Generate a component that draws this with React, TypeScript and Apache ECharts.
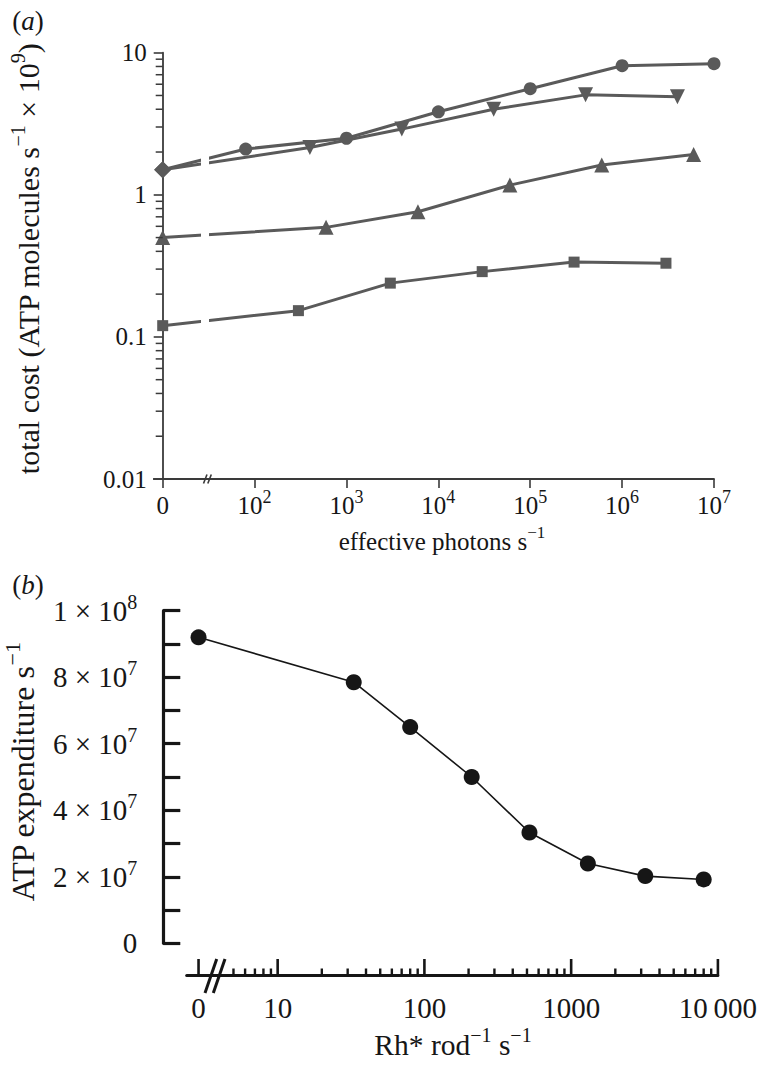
import React, { useEffect, useRef } from 'react';
import * as echarts from 'echarts';

const FONT = '"Liberation Serif", "DejaVu Serif", serif';

// ---------- Panel (a): total cost vs effective photons ----------
const circleX = [0, 80, 1e3, 1e4, 1e5, 1e6, 1e7];
const circleCost = [1.5, 2.1, 2.5, 3.84, 5.58, 8.1, 8.37];
const triDownX = [0, 400, 4e3, 4e4, 4e5, 4e6];
const triDownCost = [1.5, 2.15, 2.9, 4.0, 5.05, 4.9];
const triUpX = [0, 600, 6e3, 6e4, 6e5, 6e6];
const triUpCost = [0.5, 0.59, 0.76, 1.17, 1.62, 1.92];
const squareX = [0, 300, 3e3, 3e4, 3e5, 3e6];
const squareCost = [0.12, 0.153, 0.239, 0.288, 0.336, 0.33];
const aYMinorTicks = [
  0.02, 0.03, 0.04, 0.05, 0.06, 0.07, 0.08, 0.09,
  0.2, 0.3, 0.4, 0.5, 0.6, 0.7, 0.8, 0.9,
  2, 3, 4, 5, 6, 7, 8, 9,
];
const A_ZERO = 10; // where "0" sits on the broken log axis of panel (a)

// ---------- Panel (b): ATP expenditure vs Rh* rate ----------
const rhRate = [0, 33, 80, 210, 520, 1300, 3200, 8000];
const atpRate = [9.2e7, 7.85e7, 6.5e7, 5.0e7, 3.33e7, 2.4e7, 2.02e7, 1.92e7];
const bXMajorTicks = [0, 10, 100, 1000, 10000];
const bXTickLabels = ['0', '10', '100', '1000', '10\u2009000'];
const bXMinorTicks = [
  5, 6, 7, 8, 9,
  20, 30, 40, 50, 60, 70, 80, 90,
  200, 300, 400, 500, 600, 700, 800, 900,
  2000, 3000, 4000, 5000, 6000, 7000, 8000, 9000,
];
const B_ZERO = 2.89; // where "0" sits on the broken log axis of panel (b)

const GRAY = '#5a5a5a';
const AXIS_A = '#3a3a3a';
const INK = '#161616';

// layout
const GA = { left: 162.7, top: 52.7, right: 44, height: 426.3 };
const GB = { left: 186.7, top: 610.7, right: 40.1, height: 332.6 };
const B_X_OFFSET = 31.7;
const B_Y_OFFSET = 23.4;

const supRich = (size: number) => ({
  s: { fontSize: size, fontFamily: FONT, verticalAlign: 'top', lineHeight: size + 1, fill: INK, color: INK },
});

export default function App() {
  const ref = useRef<HTMLDivElement>(null);

  useEffect(() => {
    document.body.style.margin = '0';
    if (!ref.current) return;
    const chart = echarts.init(ref.current, undefined, { renderer: 'svg' });

    const pairs = (xs: number[], ys: number[], zero: number) =>
      xs.map((x, i) => [x === 0 ? zero : x, ys[i]]);

    const firstDiamond = (arr: number[][]) =>
      arr.map((v, i) => (i === 0 ? { value: v, symbol: 'diamond', symbolSize: 17 } : v));

    const lineA = (name: string, data: any[], symbol: string, size: number) => ({
      name,
      type: 'line',
      xAxisIndex: 0,
      yAxisIndex: 0,
      data,
      symbol,
      symbolSize: size,
      showSymbol: true,
      z: 3,
      lineStyle: { color: GRAY, width: 3 },
      itemStyle: { color: GRAY, borderWidth: 0 },
      silent: true,
    });

    const nameText = (x: number, y: number, text: string, size: number, rotate: boolean) => ({
      type: 'text',
      z: 60,
      x,
      y,
      rotation: rotate ? Math.PI / 2 : 0,
      style: {
        text,
        fontSize: size,
        fontFamily: FONT,
        fill: INK,
        lineHeight: Math.round(size * 1.35),
        align: 'center',
        verticalAlign: 'middle',
        rich: supRich(Math.round(size * 0.68)),
      },
    });

    chart.setOption({
      animation: false,
      backgroundColor: '#fff',
      grid: [
        { left: GA.left, top: GA.top, right: GA.right, height: GA.height },
        { left: GB.left, top: GB.top, right: GB.right, height: GB.height },
      ],
      xAxis: [
        {
          gridIndex: 0,
          type: 'log',
          logBase: 10,
          min: 10,
          max: 1e7,
          interval: 1,
          axisLine: { show: true, onZero: false, lineStyle: { color: AXIS_A, width: 1.8 } },
          axisTick: { show: true, length: 9, lineStyle: { color: AXIS_A, width: 1.6 } },
          splitLine: { show: false },
          minorTick: { show: false },
          axisLabel: {
            margin: 9,
            fontSize: 25,
            fontFamily: FONT,
            color: INK,
            lineHeight: 34,
            formatter: (v: number) => {
              const e = Math.round(Math.log10(v));
              return e === 1 ? '0' : `10{s|${e}}`;
            },
            rich: supRich(18),
          },
        },
        {
          gridIndex: 1,
          type: 'log',
          logBase: 10,
          min: 2.4,
          max: 10000,
          offset: B_X_OFFSET,
          axisLine: { show: true, onZero: false, lineStyle: { color: INK, width: 3 } },
          axisTick: { show: false },
          axisLabel: { show: false },
          splitLine: { show: false },
        },
      ],
      yAxis: [
        {
          gridIndex: 0,
          type: 'log',
          logBase: 10,
          min: 0.01,
          max: 10,
          interval: 1,
          axisLine: { show: true, onZero: false, lineStyle: { color: AXIS_A, width: 1.8 } },
          axisTick: { show: true, length: 9, lineStyle: { color: AXIS_A, width: 1.6 } },
          splitLine: { show: false },
          axisLabel: {
            margin: 16,
            fontSize: 25,
            fontFamily: FONT,
            color: INK,
            formatter: (v: number) =>
              v < 1 ? v.toFixed(Math.round(-Math.log10(v))) : String(Math.round(v)),
          },
        },
        {
          gridIndex: 1,
          type: 'value',
          min: 0,
          max: 1e8,
          interval: 1e7,
          offset: B_Y_OFFSET,
          axisLine: { show: true, onZero: false, lineStyle: { color: INK, width: 3.2 } },
          axisTick: { show: true, inside: true, length: 17, lineStyle: { color: INK, width: 3.2 } },
          splitLine: { show: false },
          axisLabel: {
            margin: 26,
            fontSize: 29,
            fontFamily: FONT,
            color: INK,
            lineHeight: 38,
            formatter: (v: number) => {
              if (v === 0) return '0';
              const n = Math.round(v / 1e7);
              if (n % 2 !== 0) return '';
              const e = Math.floor(Math.log10(v) + 1e-9);
              const m = Math.round(v / Math.pow(10, e));
              return `${m} \u00d7 10{s|${e}}`;
            },
            rich: supRich(20),
          },
        },
      ],
      series: [
        lineA('circles', firstDiamond(pairs(circleX, circleCost, A_ZERO)), 'circle', 13),
        lineA('triangles down', firstDiamond(pairs(triDownX, triDownCost, A_ZERO)), 'path://M0,0 L10,0 L5,9 Z', 15),
        lineA('triangles up', pairs(triUpX, triUpCost, A_ZERO), 'triangle', 15),
        lineA('squares', pairs(squareX, squareCost, A_ZERO), 'rect', 11),
        {
          name: 'a minor ticks',
          type: 'custom',
          xAxisIndex: 0,
          yAxisIndex: 0,
          silent: true,
          z: 4,
          data: aYMinorTicks.map((v) => [A_ZERO, v]),
          renderItem: (_p: any, api: any) => {
            const p = api.coord([api.value(0), api.value(1)]);
            return {
              type: 'line',
              shape: { x1: p[0] - 7, y1: p[1], x2: p[0], y2: p[1] },
              style: { stroke: AXIS_A, lineWidth: 1.5 },
            };
          },
        },
        {
          name: 'ATP expenditure',
          type: 'line',
          xAxisIndex: 1,
          yAxisIndex: 1,
          data: pairs(rhRate, atpRate, B_ZERO),
          symbol: 'circle',
          symbolSize: 16,
          z: 3,
          lineStyle: { color: INK, width: 1.6 },
          itemStyle: { color: INK },
          silent: true,
        },
        {
          name: 'b major ticks',
          type: 'custom',
          xAxisIndex: 1,
          yAxisIndex: 1,
          silent: true,
          z: 4,
          data: bXMajorTicks.map((v, i) => [v === 0 ? B_ZERO : v, 0, i]),
          renderItem: (params: any, api: any) => {
            const p = api.coord([api.value(0), 0]);
            const y = p[1] + B_X_OFFSET;
            return {
              type: 'group',
              children: [
                {
                  type: 'line',
                  shape: { x1: p[0], y1: y, x2: p[0], y2: y - 16 },
                  style: { stroke: INK, lineWidth: 2.6 },
                },
                {
                  type: 'text',
                  x: p[0],
                  y: y + 33,
                  style: {
                    text: bXTickLabels[params.dataIndex],
                    fontSize: 29,
                    fontFamily: FONT,
                    fill: INK,
                    align: 'center',
                    verticalAlign: 'middle',
                  },
                },
              ],
            };
          },
        },
        {
          name: 'b minor ticks',
          type: 'custom',
          xAxisIndex: 1,
          yAxisIndex: 1,
          silent: true,
          z: 4,
          data: bXMinorTicks.map((v) => [v, 0]),
          renderItem: (_p: any, api: any) => {
            const p = api.coord([api.value(0), 0]);
            const y = p[1] + B_X_OFFSET;
            return {
              type: 'line',
              shape: { x1: p[0], y1: y, x2: p[0], y2: y - 6.5 },
              style: { stroke: INK, lineWidth: 2.4 },
            };
          },
        },
      ],
      graphic: [
        // gap in the lines of panel (a) at the axis break
        { type: 'rect', z: 50, shape: { x: 201, y: 58, width: 8, height: 412 }, style: { fill: '#fff' } },
        // x-axis of (a) extends slightly left of the y-axis
        { type: 'line', z: 50, shape: { x1: 153, y1: 479, x2: 163, y2: 479 }, style: { stroke: AXIS_A, lineWidth: 1.8 } },
        // break marks (a)
        { type: 'line', z: 51, shape: { x1: 203.5, y1: 483.5, x2: 207, y2: 474.5 }, style: { stroke: AXIS_A, lineWidth: 1.6 } },
        { type: 'line', z: 51, shape: { x1: 207.8, y1: 483.5, x2: 211.3, y2: 474.5 }, style: { stroke: AXIS_A, lineWidth: 1.6 } },
        // break marks (b)
        { type: 'line', z: 51, shape: { x1: 205, y1: 993, x2: 216.7, y2: 959 }, style: { stroke: INK, lineWidth: 3 } },
        { type: 'line', z: 51, shape: { x1: 213.3, y1: 993, x2: 225, y2: 959 }, style: { stroke: INK, lineWidth: 3 } },
        // panel labels
        {
          type: 'text', z: 60, x: 28, y: 21,
          style: {
            text: '({i|a})', fontSize: 27, fontFamily: FONT, fill: INK, align: 'center', verticalAlign: 'middle',
            rich: { i: { fontSize: 27, fontFamily: FONT, fontStyle: 'italic', fill: INK } },
          },
        },
        {
          type: 'text', z: 60, x: 28, y: 585,
          style: {
            text: '({i|b})', fontSize: 27, fontFamily: FONT, fill: INK, align: 'center', verticalAlign: 'middle',
            rich: { i: { fontSize: 27, fontFamily: FONT, fontStyle: 'italic', fill: INK } },
          },
        },
        // axis names
        nameText(28, 259, 'total cost (ATP molecules s{s|\u22121} \u00d7 10{s|9})', 30, true),
        nameText(442, 541, 'effective photons s{s|\u22121}', 25, false),
        nameText(23, 772, 'ATP expenditure s{s|\u22121}', 32, true),
        nameText(453, 1045, 'Rh* rod{s|\u22121} s{s|\u22121}', 29.5, false),
      ],
    });

    return () => chart.dispose();
  }, []);

  return <div ref={ref} style={{ width: 758, height: 1065, overflow: 'hidden' }} />;
}
